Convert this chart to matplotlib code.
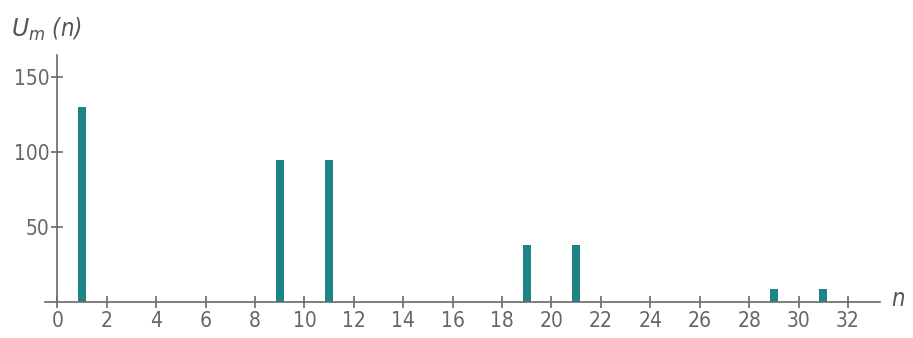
import numpy as np
import matplotlib
matplotlib.use("Agg")
import matplotlib.pyplot as plt

plt.rcParams['font.family'] = ['DejaVu Sans']

harmonics = [1, 9, 11, 19, 21, 29, 31]
amplitudes = [130, 95, 95, 38, 38, 9, 9]
xticks = list(range(0, 33, 2))
yticks = [50, 100, 150]

grey = '#6a6a6a'
teal = '#1e8586'

fig = plt.figure(figsize=(9.13, 3.38), dpi=100)
ax = fig.add_axes([0.0493, 0.1065, 0.9146, 0.7308])

ax.bar(harmonics, amplitudes, width=0.32, color=teal)

ax.set_xlim(-0.5, 33.3)
ax.set_ylim(0, 165)
ax.spines['top'].set_visible(False)
ax.spines['right'].set_visible(False)
ax.spines['left'].set_position(('data', 0))
ax.spines['left'].set_color(grey)
ax.spines['bottom'].set_color(grey)
ax.spines['left'].set_linewidth(1.2)
ax.spines['bottom'].set_linewidth(1.2)

ax.set_xticks(xticks)
ax.set_yticks(yticks)
ax.tick_params(direction='inout', length=9, width=1.2, color=grey,
               labelcolor='#666666', labelsize=15)
ax.tick_params(axis='x', pad=2)
ax.tick_params(axis='y', pad=1)
for lab in ax.get_xticklabels() + ax.get_yticklabels():
    lab.set_fontstretch('condensed')

# axis names
fig.text(0.012, 0.89, r'$U_m$ (n)', fontsize=17, color='#555555',
         style='italic', fontstretch='condensed')
fig.text(0.976, 0.095, 'n', fontsize=17, color='#555555', style='italic',
         fontstretch='condensed')

fig.savefig('out.png', dpi=100)
